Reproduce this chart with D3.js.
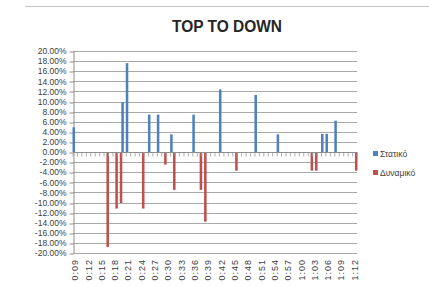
<!DOCTYPE html>
<html>
<head>
<meta charset="utf-8">
<script src="https://cdn.jsdelivr.net/npm/d3@7"></script>
<style>
  body { margin: 0; background: #fff; }
  svg { display: block; font-family: "Liberation Sans", Arial, sans-serif; }
</style>
</head>
<body>
<div id="chart"></div>
<script>
// categories: one per second, 0:09 .. 1:12
let categories = ["0:09","0:10","0:11","0:12","0:13","0:14","0:15","0:16","0:17","0:18","0:19",
  "0:20","0:21","0:22","0:23","0:24","0:25","0:26","0:27","0:28","0:29","0:30","0:31","0:32",
  "0:33","0:34","0:35","0:36","0:37","0:38","0:39","0:40","0:41","0:42","0:43","0:44","0:45",
  "0:46","0:47","0:48","0:49","0:50","0:51","0:52","0:53","0:54","0:55","0:56","0:57","0:58",
  "0:59","1:00","1:01","1:02","1:03","1:04","1:05","1:06","1:07","1:08","1:09","1:10","1:11","1:12"];

let xTickLabels = ["0:09","0:12","0:15","0:18","0:21","0:24","0:27","0:30","0:33","0:36","0:39",
  "0:42","0:45","0:48","0:51","0:54","0:57","1:00","1:03","1:06","1:09","1:12"];

let yTicks = [-20,-18,-16,-14,-12,-10,-8,-6,-4,-2,0,2,4,6,8,10,12,14,16,18,20];

// Στατικό (percent)
let staticTimes  = ["0:09","0:20","0:21","0:26","0:28","0:31","0:36","0:42","0:50","0:55","1:05","1:06","1:08"];
let staticValues = [4.9, 9.9, 17.6, 7.4, 7.4, 3.5, 7.4, 12.4, 11.3, 3.5, 3.6, 3.6, 6.2];

// Δυναμικό (percent)
let dynamicTimes  = ["0:16","0:18","0:19","0:24","0:29","0:31","0:37","0:38","0:45","1:02","1:03","1:12"];
let dynamicValues = [-18.8, -11.2, -10.1, -11.2, -2.5, -7.5, -7.5, -13.8, -3.7, -3.7, -3.7, -3.7];

let seriesNames = ["Στατικό", "Δυναμικό"];
let seriesColors = ["#4f81bd", "#c0504d"];

let width = 429, height = 286;
let plotLeft = 73, plotRight = 357, plotTop = 51, plotBottom = 253;

let svg = d3.select("#chart").append("svg")
  .attr("width", width)
  .attr("height", height);

// border line of the chart area (only the top shows)
svg.append("line")
  .attr("x1", 25).attr("x2", width)
  .attr("y1", 6.5).attr("y2", 6.5)
  .attr("stroke", "#c4c4c4");

svg.append("text")
  .attr("x", 227).attr("y", 32)
  .attr("text-anchor", "middle")
  .attr("font-size", 16)
  .attr("font-weight", "bold")
  .attr("fill", "#262626")
  .attr("textLength", 110)
  .attr("lengthAdjust", "spacingAndGlyphs")
  .text("TOP TO DOWN");

let x = d3.scaleBand().domain(categories).range([plotLeft, plotRight]).padding(0);
let xSeries = d3.scaleBand().domain(seriesNames)
  .range([-0.5, x.bandwidth() + 0.5]).paddingInner(0.12);
let y = d3.scaleLinear().domain([-20, 20]).range([plotBottom, plotTop]);

let fmt = d3.formatLocale({decimal: ".", thousands: ",", grouping: [3], currency: ["", ""], minus: "-"}).format(".2f");

// gridlines
svg.append("g").selectAll("line")
  .data(yTicks).enter().append("line")
  .attr("x1", plotLeft).attr("x2", plotRight)
  .attr("y1", d => Math.round(y(d)) + 0.5).attr("y2", d => Math.round(y(d)) + 0.5)
  .attr("stroke", "#a9a9a9");

// y axis
let yAxis = svg.append("g")
  .attr("transform", "translate(" + (plotLeft + 0.5) + ",0)")
  .call(d3.axisLeft(y).tickValues(yTicks).tickSize(4).tickSizeOuter(0).tickPadding(3)
    .tickFormat(d => fmt(d) + "%"));
yAxis.select(".domain").attr("stroke", "#8c8c8c");
yAxis.selectAll(".tick line").attr("stroke", "#8c8c8c")
  .attr("transform", d => "translate(0," + (Math.round(y(d)) + 0.5 - y(d)) + ")");
yAxis.selectAll("text")
  .attr("font-size", 8.5)
  .attr("font-family", "'Liberation Sans', Arial, sans-serif")
  .attr("fill", "#404040");

// bars
function drawSeries(times, values, idx) {
  svg.append("g").selectAll("rect")
    .data(times.map((t, i) => ({t: t, v: values[i]})))
    .enter().append("rect")
    .attr("x", d => x(d.t) + xSeries(seriesNames[idx]))
    .attr("width", xSeries.bandwidth())
    .attr("y", d => y(Math.max(0, d.v)))
    .attr("height", d => Math.abs(y(d.v) - y(0)))
    .attr("fill", seriesColors[idx]);
}
drawSeries(staticTimes, staticValues, 0);
drawSeries(dynamicTimes, dynamicValues, 1);

// category axis on the zero line, ticks between categories
let y0 = Math.round(y(0)) + 0.5;
svg.append("line")
  .attr("x1", plotLeft).attr("x2", plotRight)
  .attr("y1", y0).attr("y2", y0)
  .attr("stroke", "#8c8c8c");
svg.append("g").selectAll("line")
  .data(categories.concat(["end"])).enter().append("line")
  .attr("x1", (d, i) => plotLeft + i * x.step())
  .attr("x2", (d, i) => plotLeft + i * x.step())
  .attr("y1", y0).attr("y2", y0 + 4)
  .attr("stroke", "#9a9a9a")
  .attr("stroke-width", 0.8);

// category labels at the bottom, rotated
svg.append("g").selectAll("text")
  .data(xTickLabels).enter().append("text")
  .attr("transform", d => "translate(" + (x(d) + x.bandwidth() / 2 + 3) + "," + (plotBottom + 6) + ") rotate(-90)")
  .attr("text-anchor", "end")
  .attr("font-size", 9)
  .attr("letter-spacing", 1)
  .attr("fill", "#404040")
  .text(d => d);

// legend
let legend = svg.append("g").selectAll("g")
  .data(seriesNames).enter().append("g")
  .attr("transform", (d, i) => "translate(373," + (151 + i * 19) + ")");
legend.append("rect")
  .attr("width", 5).attr("height", 5)
  .attr("fill", (d, i) => seriesColors[i]);
legend.append("text")
  .attr("x", 7).attr("y", 5.5)
  .attr("font-size", 8.5)
  .attr("fill", "#404040")
  .text(d => d);
</script>
</body>
</html>
